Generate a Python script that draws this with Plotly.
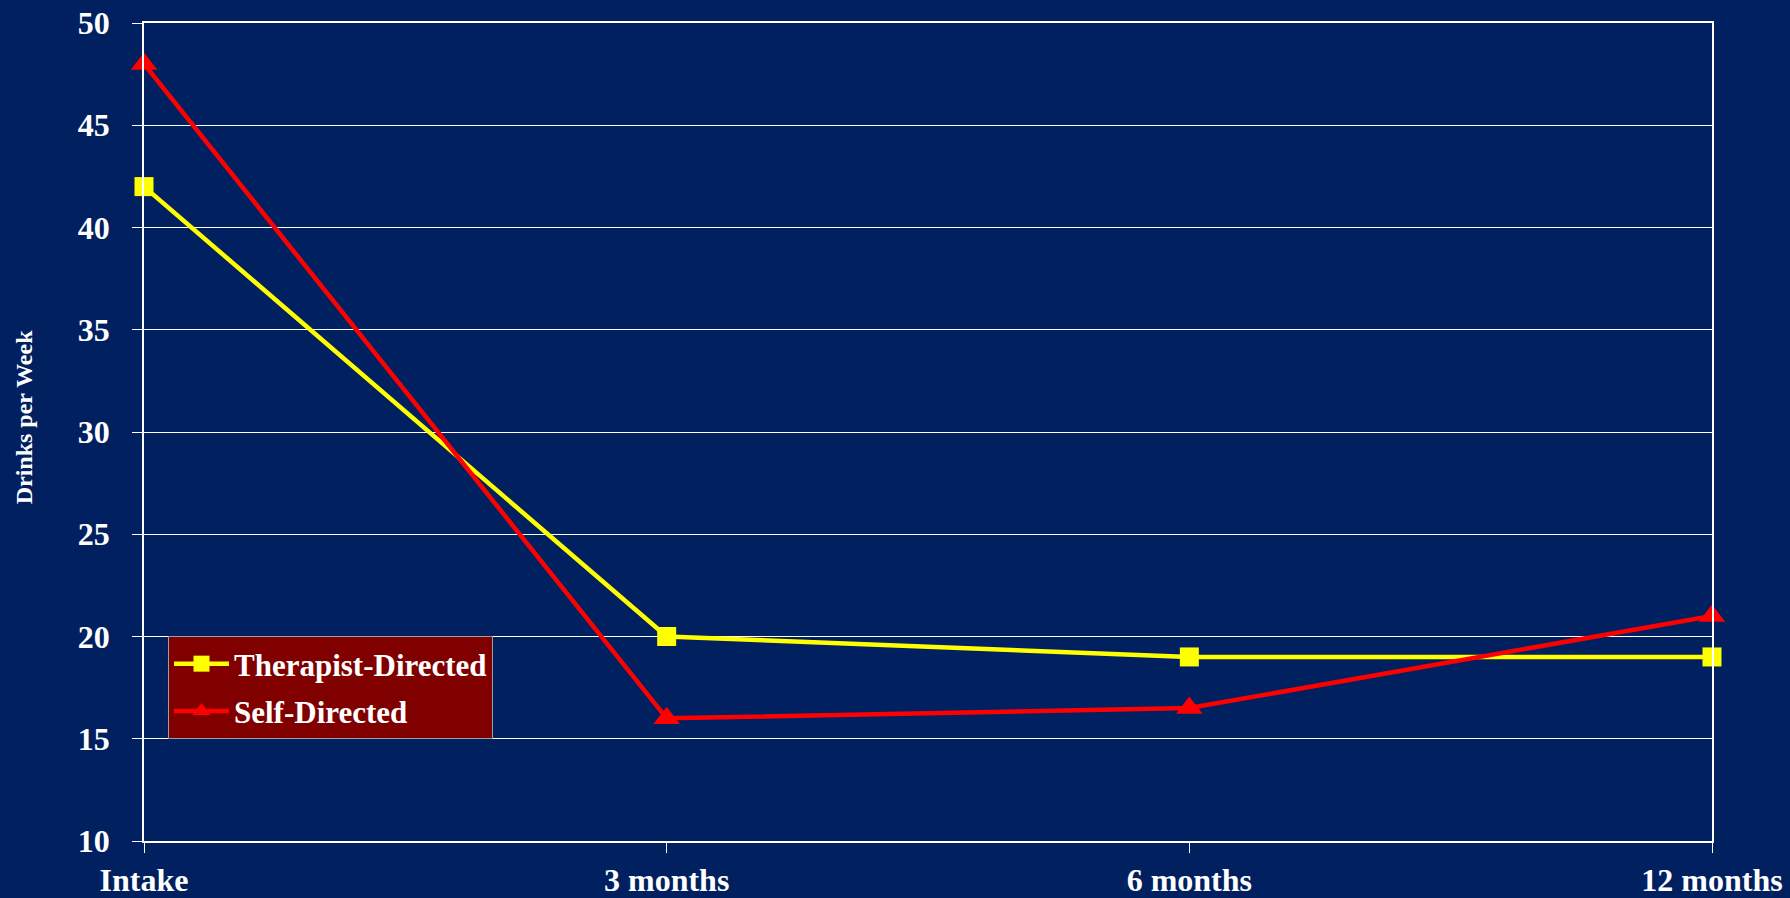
import plotly.graph_objects as go

# Follow-up time points and weekly drinking for each treatment arm
timepoints = ["Intake", "3 months", "6 months", "12 months"]
therapist_directed = [42, 20, 19, 19]
self_directed = [48, 16, 16.5, 21]
y_ticks = [10, 15, 20, 25, 30, 35, 40, 45, 50]

NAVY = "#002060"
FONT = "Liberation Serif"

fig = go.Figure()
fig.add_trace(go.Scatter(
    x=timepoints, y=therapist_directed, name="Therapist-Directed",
    mode="lines+markers", legendgroup="a", cliponaxis=False,
    line=dict(color="#FFFF00", width=4.5),
    marker=dict(symbol="square", size=19, color="#FFFF00"),
))
fig.add_trace(go.Scatter(
    x=timepoints, y=self_directed, name="Self-Directed",
    mode="lines+markers", legendgroup="b", cliponaxis=False,
    line=dict(color="#FF0000", width=4.5),
    marker=dict(symbol="triangle-up", size=23, color="#FF0000"),
))

fig.update_layout(
    width=1790, height=898,
    paper_bgcolor=NAVY, plot_bgcolor=NAVY,
    margin=dict(l=144, r=78, t=23, b=57, autoexpand=False),
    font=dict(family=FONT, color="white"),
    showlegend=True,
    legend=dict(
        x=0.0153, y=0.2506, xanchor="left", yanchor="top",
        bgcolor="#800000", bordercolor="#A0A0A0", borderwidth=1,
        font=dict(family=FONT, size=31, color="white", weight="bold"),
        itemwidth=55, tracegroupgap=4,
    ),
    xaxis=dict(
        type="category", range=[0, 3], automargin=False,
        showgrid=False, zeroline=False,
        showline=True, linecolor="white", linewidth=1.5, mirror=True,
        ticks="outside", ticklen=10, tickcolor="white", tickwidth=1,
        tickfont=dict(family=FONT, size=32, color="white", weight="bold"),
        ticklabelstandoff=0,
    ),
    yaxis=dict(
        range=[10, 50], tickvals=y_ticks, automargin=False,
        showgrid=True, gridcolor="white", gridwidth=1,
        zeroline=False,
        showline=True, linecolor="white", linewidth=1.5, mirror=True,
        ticks="outside", ticklen=10, tickcolor="white", tickwidth=1,
        tickfont=dict(family=FONT, size=32, color="white", weight="bold"),
        ticklabelstandoff=16,
    ),
    annotations=[dict(
        text="Drinks per Week", textangle=-90,
        xref="paper", yref="paper", x=-0.0765, y=0.518,
        xanchor="center", yanchor="middle", showarrow=False,
        font=dict(family=FONT, size=24, color="white", weight="bold"),
    )],
)

fig.write_html("out.html")
